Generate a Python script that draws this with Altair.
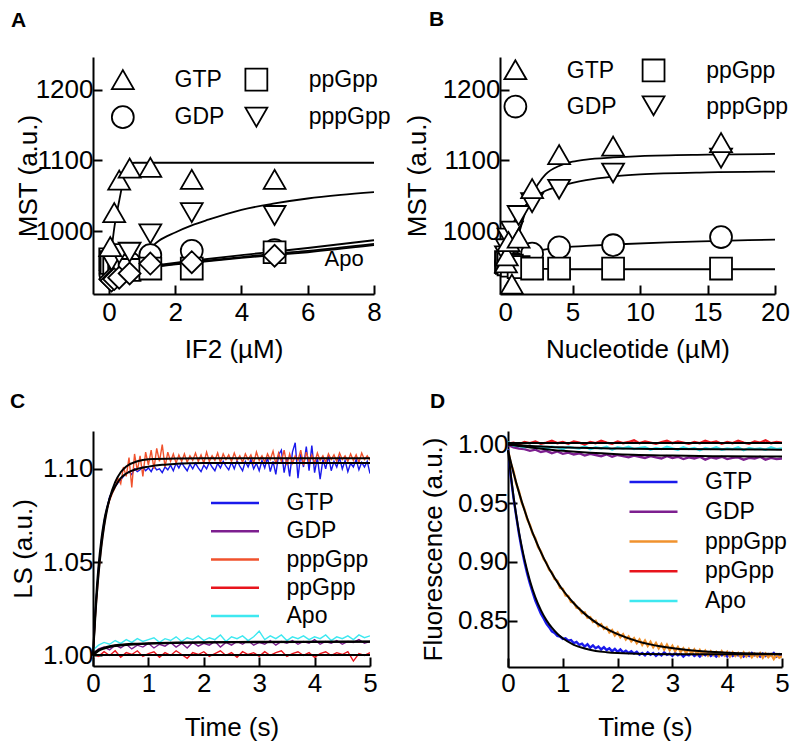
import altair as alt
import pandas as pd

FONT = "Liberation Sans"

# ---------------- Panel A : MST vs IF2 ----------------
A_SERIES = ["GTP", "GDP", "ppGpp", "pppGpp", "Apo"]
A_SHAPES = ["triangle-up", "circle", "square", "triangle-down", "diamond"]
A_POINT_ORDER = ["GDP", "ppGpp", "Apo", "pppGpp", "GTP"]

A_PTS = {
    "GTP":    ([0.04, 0.16, 0.31, 0.625, 1.25, 2.5, 5], [978, 1026, 1072, 1089, 1090, 1073, 1073]),
    "GDP":    ([0.04, 0.08, 0.16, 0.31, 0.625, 1.25, 2.5, 5], [940, 950, 958, 952, 955, 966, 972, 973]),
    "ppGpp":  ([0.04, 0.08, 0.16, 0.31, 0.625, 1.25, 2.5, 5], [960, 955, 950, 951, 945, 947, 947, 970]),
    "pppGpp": ([0.08, 0.31, 0.625, 1.25, 2.5, 5], [958, 968, 970, 996, 1026, 1022]),
    "Apo":    ([0.04, 0.08, 0.16, 0.31, 0.625, 1.25, 2.5, 5], [932, 930, 932, 934, 940, 954, 956, 965]),
}
A_FIT = {
    "GTP":    ([0, 0.08, 0.17, 0.27, 0.37, 0.45, 0.52, 0.6, 0.8, 8],
               [950, 975, 1007, 1033, 1057, 1078, 1091, 1096, 1096.5, 1096.5]),
    "pppGpp": ([0, 0.5, 1.0, 1.25, 1.5, 2, 2.5, 3, 4, 5, 6, 7, 8],
               [940, 952, 966, 976, 986, 998, 1008, 1016, 1030, 1039, 1046, 1051, 1055]),
    "GDP":    ([0, 0.3, 0.6, 1, 1.5, 2.5, 4, 5, 6, 8], [935, 942, 946, 949, 952, 958, 966, 971, 976, 987]),
    "ppGpp":  ([0, 0.3, 0.6, 1, 1.5, 2.5, 4, 5, 6, 8], [935, 941, 945, 948, 951, 956, 963, 968, 972, 982]),
    "Apo":    ([0, 0.3, 0.6, 1, 1.5, 2.5, 4, 5, 6, 8], [930, 938, 943, 947, 950, 955, 962, 966, 970, 980]),
}
A_LABEL = {"text": ["Apo"], "x": [7.1], "y": [961]}
# legend key (symbol position and label position, data units)
A_KEY = {"s": ["GTP", "GDP", "ppGpp", "pppGpp"],
         "sx": [0.42, 0.42, 4.45, 4.45], "sy": [1214, 1161, 1214, 1161],
         "lx": [1.98, 1.98, 6.03, 6.03], "ly": [1214, 1161, 1214, 1161]}

# ---------------- Panel B : MST vs nucleotide ----------------
B_CONC = [0.0625, 0.125, 0.25, 0.5, 1, 2, 4, 8, 16]
B_PTS = {
    "GDP":    (B_CONC, [955, 956, 958, 960, 963, 968, 977, 980, 991.5]),
    "ppGpp":  (B_CONC, [956, 955, 953, 951, 949, 947, 947, 947, 947]),
    "pppGpp": (B_CONC, [965, 975, 990, 1000, 1022, 1040, 1059, 1082, 1103]),
    "GTP":    (B_CONC, [955, 965, 985, 925, 990, 1060, 1108, 1120, 1125]),
}
B_POINT_ORDER = ["GDP", "ppGpp", "pppGpp", "GTP"]
B_FIT = {
    "GTP":    ([0, 0.5, 1, 1.5, 2, 2.5, 3, 4, 5, 6, 8, 10, 15, 20],
               [955, 965, 995, 1027, 1052, 1068, 1080, 1092, 1098, 1101, 1104, 1106, 1108, 1109]),
    "pppGpp": ([0, 0.5, 1, 1.5, 2, 3, 4, 5, 6, 8, 10, 15, 20],
               [990, 1008, 1024, 1036, 1045, 1057, 1063, 1068, 1072, 1077, 1080, 1083, 1084]),
    "GDP":    ([0, 0.5, 1, 2, 3, 4, 6, 8, 12, 16, 20], [955, 960, 964, 970, 974, 976.5, 979, 981, 984, 986, 988]),
    "ppGpp":  ([0, 0.5, 1, 2, 3, 5, 20], [956, 952, 949, 947, 946.5, 946, 946]),
}
B_KEY = {"s": ["GTP", "GDP", "ppGpp", "pppGpp"],
         "sx": [0.76, 0.76, 11.0, 11.0], "sy": [1228, 1176, 1227, 1177],
         "lx": [4.57, 4.57, 14.9, 14.9], "ly": [1226, 1175, 1226, 1175]}

# ---------------- Panels C, D : stopped-flow traces ----------------
KIN_SERIES = ["GTP", "GDP", "pppGpp", "ppGpp", "Apo"]
C_COLORS = ["#1a1aeb", "#7d1f8f", "#f0522d", "#e8141c", "#3ee8f0"]
D_COLORS = ["#1a1aeb", "#7d1f8f", "#f0922e", "#e8141c", "#3ee8f0"]

T05 = [round(i * 0.05, 2) for i in range(101)]
T10 = [round(i * 0.1, 1) for i in range(51)]

# C traces: LS - 1, in units of 1e-4
C_GTP = [0, 270, 470, 610, 720, 790, 850, 880, 905, 925,
         940, 960, 975, 985, 970, 1000, 985, 995, 1010, 990,
         1005, 985, 1015, 995, 1000, 980, 1010, 995, 1020, 990,
         1030, 1005, 1035, 1010, 990, 1025, 1000, 1030, 1005, 985,
         1020, 1000, 1035, 1010, 990, 1030, 1005, 1040, 1015, 995,
         1035, 1000, 1045, 1015, 990, 1040, 1010, 1050, 1000, 1030,
         990, 1045, 1005, 1060, 985, 1040, 970, 1075, 1100, 980,
         1060, 960, 1090, 1140, 950, 1080, 1010, 1120, 990, 1125,
         980, 1060, 945, 1050, 1000, 1070, 990, 1040, 1010, 1060,
         1000, 1045, 985, 1030, 1010, 1050, 995, 1035, 1010, 1040,
         975]
C_PPPGPP = [0, 240, 430, 580, 690, 780, 830, 870, 900, 950,
            920, 1010, 960, 1060, 900, 1080, 990, 1070, 960, 1090,
            1020, 1100, 1000, 1110, 1040, 1130, 1010, 1090, 1040, 1080,
            1030, 1075, 1040, 1080, 1035, 1070, 1045, 1085, 1040, 1075,
            1030, 1090, 1040, 1070, 1045, 1085, 1035, 1080, 1050, 1075,
            1040, 1085, 1045, 1070, 1035, 1080, 1050, 1075, 1030, 1090,
            1045, 1070, 1035, 1080, 1050, 1095, 1025, 1085, 1040, 1100,
            1020, 1080, 1030, 1070, 1045, 1100, 1020, 1090, 1040, 1075,
            1030, 1085, 1045, 1070, 1035, 1080, 1050, 1075, 1040, 1085,
            1050, 1070, 1040, 1080, 1045, 1075, 1035, 1085, 1050, 1070,
            1045]
C_GDP = [10, 35, 45, 30, 55, 40, 60, 35, 55, 45, 65, 40, 60, 50, 70, 45, 65, 40, 70, 50,
         65, 55, 75, 45, 70, 55, 75, 60, 80, 55, 70, 60, 80, 55, 75, 65, 80, 60, 75, 65,
         85, 60, 75, 65, 80, 60, 75, 70, 85, 65, 75]
C_APO = [30, 55, 70, 60, 80, 65, 85, 70, 90, 75, 85, 95, 70, 90, 80, 100, 75, 95, 85, 105,
         80, 95, 85, 110, 75, 100, 90, 105, 80, 100, 130, 85, 105, 90, 110, 80, 100, 90, 105, 85,
         100, 90, 110, 80, 100, 90, 105, 85, 110, 95, 105]
C_PPGPP = [10, -5, 20, 0, 25, -10, 15, 5, 25, -5, 10, 20, -10, 15, 0, 25, 5, -15, 15, 5,
           20, -5, 10, 25, 0, 15, -10, 20, 5, 15, -5, 20, 0, 15, 25, -5, 10, 20, 0, 15,
           -10, 10, 20, 0, 15, 5, 20, -30, 10, 0, 15]
C_FIT = {
    "GTP":    ([0, 0.05, 0.1, 0.15, 0.2, 0.3, 0.4, 0.5, 0.6, 0.8, 1.0, 1.25, 1.5, 2, 3, 5],
               [1.0, 1.028, 1.048, 1.062, 1.072, 1.084, 1.0905, 1.095, 1.0975, 1.1, 1.1012, 1.1022,
                1.1027, 1.1031, 1.1032, 1.1032]),
    "pppGpp": ([0, 0.05, 0.1, 0.15, 0.2, 0.3, 0.4, 0.5, 0.6, 0.8, 1.0, 1.5, 2, 5],
               [1.0, 1.0246, 1.0434, 1.0579, 1.069, 1.0841, 1.0929, 1.0982, 1.1013, 1.1041, 1.1052,
                1.1056, 1.1057, 1.1057]),
    "Apo":    ([0, 0.1, 0.2, 0.3, 0.5, 0.75, 1, 1.5, 2, 3, 5],
               [1.001, 1.003, 1.0042, 1.005, 1.0058, 1.0063, 1.0066, 1.0069, 1.0071, 1.0073, 1.0075]),
    "GDP":    ([0, 0.1, 0.2, 0.3, 0.5, 0.75, 1, 1.5, 2, 3, 5],
               [1.0, 1.0025, 1.0037, 1.0045, 1.0053, 1.0059, 1.0063, 1.0067, 1.0069, 1.0071, 1.0073]),
    "ppGpp":  ([0, 5], [1.0003, 1.0003]),
}

# D traces: fluorescence, in units of 1e-4
D_GTP = [9960, 9730, 9545, 9390, 9240, 9110, 9000, 8900, 8815, 8740,
         8670, 8615, 8560, 8520, 8475, 8445, 8410, 8395, 8370, 8365,
         8345, 8350, 8330, 8335, 8310, 8320, 8295, 8305, 8280, 8300,
         8270, 8290, 8265, 8280, 8255, 8275, 8250, 8265, 8240, 8260,
         8235, 8255, 8230, 8245, 8225, 8240, 8220, 8235, 8210, 8225,
         8205, 8230, 8210, 8225, 8200, 8220, 8205, 8230, 8210, 8220,
         8200, 8225, 8205, 8220, 8195, 8215, 8205, 8225, 8200, 8215,
         8195, 8220, 8205, 8225, 8200, 8215, 8195, 8220, 8205, 8215,
         8195, 8225, 8200, 8215, 8205, 8220, 8195, 8215, 8200, 8225,
         8205, 8215, 8195, 8220, 8200, 8215, 8205, 8225, 8195, 8215,
         8205]
D_PPPGPP = [9950, 9840, 9770, 9665, 9600, 9505, 9450, 9365, 9315, 9240,
            9200, 9125, 9090, 9025, 8995, 8935, 8910, 8855, 8840, 8780,
            8770, 8715, 8710, 8660, 8655, 8610, 8605, 8565, 8570, 8525,
            8530, 8490, 8500, 8455, 8470, 8430, 8445, 8400, 8420, 8375,
            8400, 8360, 8385, 8340, 8365, 8325, 8350, 8310, 8340, 8295,
            8330, 8285, 8320, 8275, 8310, 8265, 8300, 8255, 8295, 8250,
            8285, 8240, 8275, 8235, 8265, 8225, 8260, 8220, 8255, 8215,
            8250, 8210, 8245, 8205, 8240, 8210, 8235, 8200, 8240, 8205,
            8235, 8195, 8230, 8200, 8225, 8190, 8230, 8195, 8225, 8190,
            8220, 8195, 8225, 8185, 8220, 8190, 8215, 8175, 8210, 8185,
            8200]
D_PPGPP = [10005, 10015, 10000, 10020, 10010, 10025, 10005, 10015, 10030, 10010,
           10020, 10005, 10025, 10015, 10000, 10020, 10010, 10030, 10015, 10005,
           10025, 10010, 10020, 10035, 10010, 10025, 10015, 10005, 10020, 10030,
           10010, 10025, 10015, 10005, 10020, 10010, 10030, 10015, 10025, 10005,
           10020, 10010, 10030, 10015, 10005, 10025, 10015, 10035, 10010, 10020, 10015]
D_APO = [10020, 9990, 9985, 9975, 9990, 9970, 9985, 9965, 9980, 9975,
         9960, 9980, 9970, 9965, 9985, 9960, 9975, 9965, 9980, 9955,
         9975, 9965, 9980, 9960, 9970, 9975, 9955, 9970, 9960, 9980,
         9965, 9955, 9975, 9960, 9970, 9950, 9970, 9960, 9975, 9955,
         9965, 9960, 9975, 9950, 9970, 9960, 9965, 9955, 9975, 9960, 9965]
D_GDP = [9995, 9975, 9965, 9960, 9945, 9955, 9935, 9945, 9925, 9940,
         9920, 9930, 9915, 9925, 9905, 9920, 9910, 9900, 9915, 9895,
         9910, 9900, 9890, 9905, 9895, 9885, 9900, 9890, 9880, 9900,
         9885, 9895, 9875, 9890, 9880, 9895, 9870, 9890, 9880, 9895,
         9875, 9885, 9890, 9870, 9885, 9880, 9895, 9870, 9885, 9875, 9880]
D_FIT = {
    "GTP":    ([0, 0.05, 0.1, 0.15, 0.2, 0.25, 0.3, 0.4, 0.5, 0.6, 0.7, 0.8, 0.9, 1.0, 1.2, 1.4, 1.6,
                1.8, 2.0, 2.5, 3.0, 4.0, 5.0],
               [0.995, 0.9742, 0.9559, 0.9398, 0.9256, 0.9132, 0.9022, 0.884, 0.8699, 0.859, 0.8505,
                0.844, 0.8389, 0.835, 0.8295, 0.8263, 0.8243, 0.8232, 0.8225, 0.8217, 0.8215, 0.8214,
                0.8214]),
    "pppGpp": ([0, 0.1, 0.2, 0.3, 0.4, 0.5, 0.6, 0.7, 0.8, 0.9, 1.0, 1.2, 1.4, 1.6, 1.8, 2.0, 2.4,
                2.8, 3.2, 3.6, 4.0, 4.5, 5.0],
               [0.995, 0.9761, 0.9592, 0.9442, 0.9308, 0.9189, 0.9083, 0.8988, 0.8903, 0.8828, 0.8761,
                0.8648, 0.8558, 0.8486, 0.843, 0.8385, 0.832, 0.828, 0.8254, 0.8238, 0.8228, 0.822,
                0.8216]),
    "Apo":    ([0, 0.5, 1, 2, 3, 5], [1.0, 0.9985, 0.9975, 0.9965, 0.996, 0.9955]),
    "GDP":    ([0, 0.5, 1, 1.5, 2, 3, 4, 5], [1.0, 0.997, 0.9945, 0.9928, 0.9917, 0.9905, 0.9899, 0.9896]),
    "ppGpp":  ([0, 5], [1.0012, 1.0012]),
}

LEGEND_LINE = "M-4.8,0L4.8,0"


# ---------------- helpers ----------------
def long_df(d, order=None):
    rows = []
    for s in (order or list(d.keys())):
        xs, ys = d[s]
        for x, y in zip(xs, ys):
            rows.append({"x": x, "y": y, "s": s})
    return pd.DataFrame(rows)


def trace_df(items):
    rows = []
    for s, ts, vals in items:
        for t, v in zip(ts, vals):
            rows.append({"x": t, "y": v / 10000.0, "s": s})
    return pd.DataFrame(rows)


def encs(W, H, xdom, ydom, xticks, yticks, xfmt, yfmt, xtitle, ytitle, xlp, xtp, ylp, ytp):
    xs = alt.Scale(domain=xdom, nice=False, zero=False)
    ys = alt.Scale(domain=ydom, nice=False, zero=False)
    main_x = alt.X("x:Q", scale=xs, axis=alt.Axis(
        orient="bottom", values=xticks, format=xfmt, title=xtitle, ticks=False, tickSize=0,
        labelPadding=xlp, titlePadding=xtp, labelFlush=False, labelOverlap=False))
    main_y = alt.Y("y:Q", scale=ys, axis=alt.Axis(
        orient="left", values=yticks, format=yfmt, title=ytitle, ticks=False, tickSize=0,
        labelPadding=ylp, titlePadding=ytp, labelFlush=False, labelOverlap=False))
    tick_x = alt.X("x:Q", scale=xs, axis=alt.Axis(
        orient="top", offset=-H, values=xticks, labels=False, domain=False, ticks=True,
        tickSize=9, title=None))
    tick_y = alt.Y("y:Q", scale=ys, axis=alt.Axis(
        orient="right", offset=-W, values=yticks, labels=False, domain=False, ticks=True,
        tickSize=9, title=None, minExtent=0))
    return main_x, main_y, tick_x, tick_y, xs, ys


def letter(txt, dx, offset):
    return alt.TitleParams(text=txt, anchor="start", frame="group", dx=dx, offset=offset,
                           fontSize=21, fontWeight="bold", font=FONT, color="black")


def mst_panel(pts, order, fits, key, W, H, xdom, xticks, xtitle, ytp, ttl, label=None):
    mx, my, tx, ty, xs, ys = encs(W, H, xdom, [911, 1246], xticks, [1000, 1100, 1200], "d", "d",
                                  xtitle, "MST (a.u.)", 5, 11, 0, ytp)
    shape_scale = alt.Scale(domain=A_SERIES, range=A_SHAPES)
    fit_df = long_df(fits)
    pt_df = long_df(pts, order)
    key_df = pd.DataFrame(key)
    pt_style = dict(filled=False, fill="white", stroke="black", strokeWidth=1.8, size=480,
                    opacity=1, fillOpacity=1)
    lines = alt.Chart(fit_df).mark_line(color="black", strokeWidth=1.8, interpolate="monotone").encode(
        x=mx, y=my, detail="s:N")
    points = alt.Chart(pt_df).mark_point(**pt_style).encode(
        x=alt.X("x:Q", scale=xs, axis=None), y=alt.Y("y:Q", scale=ys, axis=None),
        shape=alt.Shape("s:N", scale=shape_scale, legend=None))
    key_sym = alt.Chart(key_df).mark_point(**pt_style).encode(
        x=alt.X("sx:Q", scale=xs, axis=None), y=alt.Y("sy:Q", scale=ys, axis=None),
        shape=alt.Shape("s:N", scale=shape_scale, legend=None))
    key_txt = alt.Chart(key_df).mark_text(fontSize=23, font=FONT, color="black", align="left",
                                          baseline="middle").encode(
        x=alt.X("lx:Q", scale=xs, axis=None), y=alt.Y("ly:Q", scale=ys, axis=None), text="s:N")
    layers = [lines, points, key_sym, key_txt]
    if label is not None:
        layers.append(alt.Chart(pd.DataFrame(label)).mark_text(
            fontSize=22, font=FONT, color="black", align="center", baseline="middle").encode(
            x=alt.X("x:Q", scale=xs, axis=None), y=alt.Y("y:Q", scale=ys, axis=None), text="text:N"))
    ticks = alt.Chart(fit_df).mark_line(opacity=0).encode(x=tx, y=ty, detail="s:N")
    layers.append(ticks)
    return alt.layer(*layers).properties(width=W, height=H, title=ttl).resolve_axis(
        x="independent", y="independent")


def kin_panel(traces, fits, colors, W, H, ydom, yticks, ytitle, xlp, xtp, ytp, leg, ttl, tw):
    mx, my, tx, ty, xs, ys = encs(W, H, [0, 5], ydom, [0, 1, 2, 3, 4, 5], yticks, "d", ".2f",
                                  "Time (s)", ytitle, xlp, xtp, 0, ytp)
    fit_df = long_df(fits)
    tr = alt.Chart(traces).mark_line(strokeWidth=tw, clip=True).encode(
        x=mx, y=my,
        color=alt.Color("s:N", scale=alt.Scale(domain=KIN_SERIES, range=colors),
                        legend=alt.Legend(orient="none", legendX=leg[0], legendY=leg[1], title=None,
                                          symbolType=LEGEND_LINE, symbolSize=100,
                                          symbolStrokeWidth=2.5, labelFontSize=23,
                                          labelOffset=leg[3], rowPadding=leg[2],
                                          labelBaseline="middle", padding=0)))
    fl = alt.Chart(fit_df).mark_line(color="black", strokeWidth=2.0, interpolate="monotone").encode(
        x=alt.X("x:Q", scale=xs, axis=None), y=alt.Y("y:Q", scale=ys, axis=None), detail="s:N")
    ticks = alt.Chart(fit_df).mark_line(opacity=0).encode(x=tx, y=ty, detail="s:N")
    return alt.layer(tr, fl, ticks).properties(width=W, height=H, title=ttl).resolve_axis(
        x="independent", y="independent")


# ---------------- build ----------------
panelA = mst_panel(A_PTS, A_POINT_ORDER, A_FIT, A_KEY, 281, 237, [-0.48, 8], [0, 2, 4, 6, 8],
                   "IF2 (µM)", -6, letter("A", -82, 26), A_LABEL)
panelB = mst_panel(B_PTS, B_POINT_ORDER, B_FIT, B_KEY, 275, 237, [-0.38, 20], [0, 5, 10, 15, 20],
                   "Nucleotide (µM)", 12, letter("B", -71, 26))

C_TRACES = trace_df([("GTP", T05, [10000 + v for v in C_GTP]),
                     ("pppGpp", T05, [10000 + v for v in C_PPPGPP]),
                     ("GDP", T10, [10000 + v for v in C_GDP]),
                     ("Apo", T10, [10000 + v for v in C_APO]),
                     ("ppGpp", T10, [10000 + v for v in C_PPGPP])])
D_TRACES = trace_df([("GTP", T05, D_GTP), ("pppGpp", T05, D_PPPGPP),
                     ("GDP", T10, D_GDP), ("Apo", T10, D_APO), ("ppGpp", T10, D_PPGPP)])

panelC = kin_panel(C_TRACES, C_FIT, C_COLORS, 277, 235, [0.99435, 1.1203], [1.0, 1.05, 1.1],
                   "LS (a.u.)", 4.3, 18, 6, (130.5, 60.5, 4.25, 40), letter("C", -83, 19), 1.4)
panelD = kin_panel(D_TRACES, D_FIT, D_COLORS, 274, 236, [0.8106, 1.0114], [0.85, 0.9, 0.95, 1.0],
                   "Fluorescence (a.u.)", 3.5, 18, 10.6, (134, 39.5, 5.75, 40), letter("D", -78, 19),
                   2.4)

row1 = alt.hconcat(panelA, panelB, spacing=13).resolve_scale(
    shape="independent", x="independent", y="independent")
row2 = alt.hconcat(panelC, panelD, spacing=42).resolve_scale(
    color="independent", x="independent", y="independent").resolve_legend(color="independent")

chart = alt.vconcat(row1, row2, spacing=29).resolve_scale(
    color="independent", shape="independent", x="independent", y="independent").properties(
    padding={"left": 2, "top": 0, "right": 0, "bottom": 0}
).configure(font=FONT).configure_axis(
    labelFont=FONT, titleFont=FONT, labelFontSize=26, titleFontSize=26, titleFontWeight="normal",
    labelColor="black", titleColor="black", domainColor="black", tickColor="black",
    domainWidth=2, tickWidth=2, grid=False
).configure_legend(labelFont=FONT, labelColor="black").configure_view(strokeWidth=0)

chart.save("out.html", embed_options={"renderer": "svg", "actions": False})
